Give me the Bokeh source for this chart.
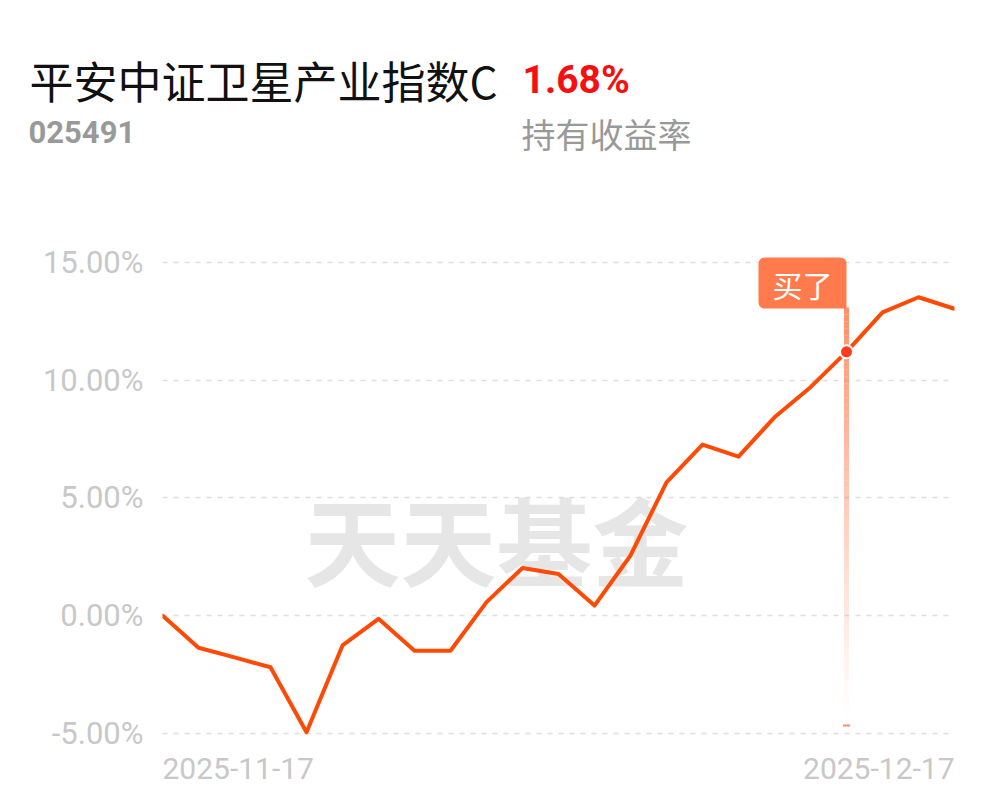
import numpy as np
from bokeh.plotting import figure
from bokeh.layouts import column
from bokeh.models import Range1d, FixedTicker, PrintfTickFormatter, Label, ColumnDataSource
from bokeh.core.properties import value
from bokeh.embed import file_html
from bokeh.resources import INLINE

# ---------------- data ----------------
fund_name = "平安中证卫星产业指数C"
fund_code = "025491"
holding_return = "1.68%"
holding_label = "持有收益率"
watermark = "天天基金"
buy_label = "买了"
buy_date = "2025-12-12"

dates = [
    "2025-11-17", "2025-11-18", "2025-11-19", "2025-11-20", "2025-11-21",
    "2025-11-24", "2025-11-25", "2025-11-26", "2025-11-27", "2025-11-28",
    "2025-12-01", "2025-12-02", "2025-12-03", "2025-12-04", "2025-12-05",
    "2025-12-08", "2025-12-09", "2025-12-10", "2025-12-11", "2025-12-12",
    "2025-12-15", "2025-12-16", "2025-12-17",
]
returns = [
    0.00, -1.37, -1.78, -2.20, -4.96,
    -1.27, -0.14, -1.50, -1.50, 0.57,
    2.02, 1.76, 0.42, 2.55, 5.66,
    7.26, 6.75, 8.42, 9.70, 11.20,
    12.88, 13.52, 13.03,
]
y_ticks = [-5, 0, 5, 10, 15]

# ---------------- layout (page pixels) ----------------
W = 980
HEAD_H = 175                     # header strip height
TOTAL_H = 785
CHART_H = TOTAL_H - HEAD_H
X0_PAGE, X_STEP = 162, 36.0      # first date position, px per day
Y0_PAGE, Y_STEP = 615, 23.54     # 0% position, px per 1%
FRAME_R = X0_PAGE + int(X_STEP * (len(dates) - 1))


def px_x(px):
    return (px - X0_PAGE) / X_STEP


def px_y(py):
    return (Y0_PAGE - py) / Y_STEP


# ---------------- header ----------------
head = figure(width=W, height=HEAD_H, output_backend="svg", toolbar_location=None,
              x_axis_location=None, y_axis_location=None,
              x_range=Range1d(0, W), y_range=Range1d(HEAD_H, 0),
              min_border_left=0, min_border_right=0,
              min_border_top=0, min_border_bottom=0)
head.frame_align = False
head.outline_line_color = None
head.grid.grid_line_color = None
head.background_fill_color = "white"
head.border_fill_color = "white"

head.text(x=[29], y=[79], text=[fund_name], text_font=value("Noto Sans CJK SC"),
          text_font_size="44px", text_color="#111111",
          text_align="left", text_baseline="middle")
head.text(x=[522], y=[79], text=[holding_return], text_font=value("Roboto"),
          text_font_style="bold", text_font_size="39px", text_color="#f50f0f",
          text_align="left", text_baseline="middle")
head.text(x=[28], y=[131], text=[fund_code], text_font=value("Roboto"),
          text_font_style="bold", text_font_size="31px", text_color="#999999",
          text_align="left", text_baseline="middle")
head.text(x=[521], y=[133], text=[holding_label], text_font=value("Noto Sans CJK SC"),
          text_font_size="34px", text_color="#999999",
          text_align="left", text_baseline="middle")

# ---------------- chart ----------------
idx = list(range(len(dates)))
src = ColumnDataSource(dict(i=idx, r=returns, d=dates))

p = figure(width=W, height=CHART_H, output_backend="svg", toolbar_location=None,
           x_axis_location=None,
           x_range=Range1d(0, len(dates) - 1),
           y_range=Range1d(px_y(TOTAL_H), px_y(HEAD_H)),
           min_border_left=X0_PAGE, min_border_right=W - FRAME_R,
           min_border_top=0, min_border_bottom=0)
p.frame_align = False
p.outline_line_color = None
p.background_fill_color = "white"
p.border_fill_color = "white"

ax = p.yaxis[0]
ax.ticker = FixedTicker(ticks=y_ticks)
ax.formatter = PrintfTickFormatter(format="%.2f%%")
ax.axis_line_color = None
ax.major_tick_line_color = None
ax.minor_tick_line_color = None
ax.major_tick_out = 0
ax.major_tick_in = 0
ax.major_label_standoff = 19
ax.major_label_text_font = "Roboto"
ax.major_label_text_font_size = "31px"
ax.major_label_text_color = "#c8c8c8"

p.xgrid.grid_line_color = None
p.ygrid.ticker = FixedTicker(ticks=y_ticks)
p.ygrid.grid_line_color = "#dedede"
p.ygrid.grid_line_width = 1.5
p.ygrid.grid_line_dash = "5 6"

# watermark
p.text(x=[px_x(496)], y=[px_y(537)], text=[watermark],
       text_font=value("Noto Sans CJK SC"), text_font_style="bold",
       text_font_size="96px", text_color="#e6e6e6",
       text_align="center", text_baseline="middle", level="image")

# buy marker: fading vertical line
bi = dates.index(buy_date)
N = 60
ys = np.linspace(px_y(307), px_y(722), N + 1)
alphas = 0.85 * (1 - (np.arange(N) + 0.5) / N) ** 1.2
p.segment(x0=[bi] * N, y0=ys[:-1], x1=[bi] * N, y1=ys[1:],
          line_color="#ff7b4d", line_alpha=list(alphas), line_width=5)
p.rect(x=[bi], y=[px_y(725)], width=7, height=2, width_units="screen",
       height_units="screen", fill_color="#ff8a6a", line_color=None)

# main line
p.line(x="i", y="r", source=src, line_color="#ff4a05", line_width=4,
       line_join="round", line_cap="round")

# buy dot
p.scatter(x=[bi], y=[returns[bi]], size=13, fill_color="#ff3b1f",
          line_color="white", line_width=2)

# buy flag
p.add_layout(Label(x=bi, y=px_y(282.5), text=buy_label, text_align="right",
                   text_baseline="middle", text_font="Noto Sans CJK SC",
                   text_font_size="30px", text_color="white",
                   background_fill_color="#ff7b4d",
                   padding=dict(left=14, right=14, top=4, bottom=3),
                   border_radius=dict(top_left=6, top_right=6, bottom_right=0, bottom_left=6),
                   x_offset=0))

# date labels
p.add_layout(Label(x=0, y=px_y(768), text=dates[0], text_align="left",
                   text_baseline="middle", text_font="Roboto",
                   text_font_size="30px", text_color="#c8c8c8"))
p.add_layout(Label(x=len(dates) - 1, y=px_y(768), text=dates[-1], text_align="right",
                   text_baseline="middle", text_font="Roboto",
                   text_font_size="30px", text_color="#c8c8c8"))

layout = column(head, p, spacing=0)
open("out.html", "w").write(file_html(layout, INLINE))
